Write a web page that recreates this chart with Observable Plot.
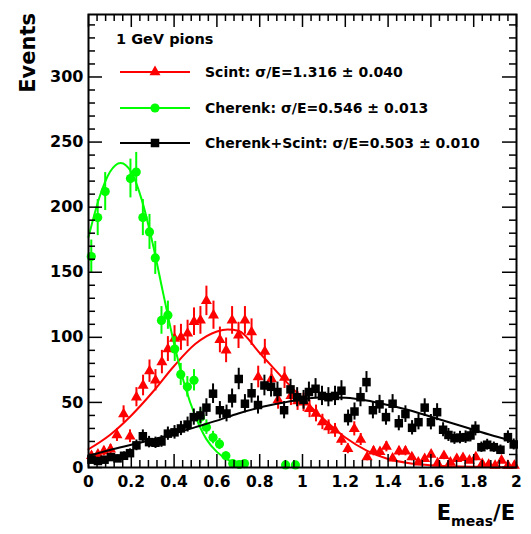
<!DOCTYPE html>
<html>
<head>
<meta charset="utf-8">
<script src="https://cdn.jsdelivr.net/npm/d3@7"></script>
<script src="https://cdn.jsdelivr.net/npm/@observablehq/plot@0.6"></script>
<style>
  body { margin: 0; background: #fff; }
  #chart svg { display: block; }
</style>
</head>
<body>
<div id="chart"></div>
<script>
// Energy response of the dual-readout calorimeter to 1 GeV pions.

// Scintillation signal histogram (bin centre, events)
const scintX = [0.014, 0.044, 0.072, 0.103, 0.133, 0.164, 0.194, 0.224, 0.255, 0.285, 0.313, 0.343, 0.371, 0.402, 0.432, 0.463, 0.493, 0.523, 0.551, 0.584, 0.614, 0.643, 0.671, 0.701, 0.731, 0.762, 0.793, 0.824, 0.855, 0.886, 0.916, 0.946, 0.977, 1.005, 1.033, 1.063, 1.093, 1.122, 1.152, 1.182, 1.212, 1.242, 1.272, 1.302, 1.332, 1.362, 1.392, 1.421, 1.451, 1.481, 1.511, 1.541, 1.571, 1.601, 1.631, 1.661, 1.691, 1.721, 1.750, 1.780, 1.810, 1.840, 1.870, 1.900, 1.930, 1.960, 1.990];
const scintY = [9, 10, 12.5, 14, 25, 41, 24, 54, 63, 74, 67, 81, 91, 99, 100, 103, 112, 113, 128, 117, 98, 90, 113, 101.5, 113, 104, 69.5, 89, 68, 52, 69, 55, 51, 50, 45, 41.5, 35, 31, 28.5, 21.5, 14.4, 29.7, 21.5, 8, 12.5, 12, 16, 7, 12.5, 12.5, 8, 4, 6.7, 10, 3.3, 9, 4, 6.7, 7.4, 5.4, 8, 2.8, 2.3, 1.5, 5.4, 1.5, 1.5];

// Cherenkov signal histogram
const cherX = [0.013, 0.043, 0.078, 0.196, 0.223, 0.254, 0.285, 0.312, 0.341, 0.371, 0.403, 0.431, 0.462, 0.493, 0.523, 0.551, 0.582, 0.612, 0.642, 0.674, 0.704, 0.729, 0.921, 0.967];
const cherY = [162, 192, 212, 222, 227, 192, 181, 161, 113, 117, 91, 71.5, 62, 67, 38.7, 31, 23, 18, 9, 3, 2.3, 3, 2, 2];

// Combined Cherenkov + scintillation histogram
const sumX = [0.014, 0.044, 0.075, 0.105, 0.136, 0.166, 0.194, 0.224, 0.254, 0.283, 0.313, 0.341, 0.371, 0.402, 0.432, 0.463, 0.492, 0.523, 0.551, 0.582, 0.614, 0.645, 0.671, 0.702, 0.731, 0.762, 0.792, 0.822, 0.853, 0.883, 0.914, 0.944, 0.975, 1.005, 1.030, 1.061, 1.091, 1.121, 1.152, 1.182, 1.213, 1.243, 1.271, 1.299, 1.329, 1.360, 1.390, 1.421, 1.450, 1.481, 1.512, 1.542, 1.571, 1.600, 1.629, 1.657, 1.682, 1.710, 1.736, 1.762, 1.785, 1.808, 1.836, 1.863, 1.894, 1.925, 1.960, 1.987];
const sumY = [6, 5, 6, 8, 7, 9, 11, 17, 24, 19.5, 19, 20, 26, 27, 30, 33, 38.7, 40, 46, 56.7, 44, 41.5, 53, 68, 49, 57, 48, 63, 62, 58, 44, 60, 54, 52, 58, 60.5, 55, 54, 55, 59, 38, 43, 54, 65.6, 44, 48.5, 38.7, 49, 34, 41, 30.5, 34.8, 46, 34.8, 42.5, 29, 25, 22.5, 23, 23.3, 24.6, 29.7, 15.6, 17.5, 15.6, 13.6, 23.3, 17.7];

// Fitted curves, sampled along E_meas/E
const scintFitX = [0, 0.1, 0.2, 0.3, 0.4, 0.5, 0.6, 0.65, 0.7, 0.8, 0.9, 1.0, 1.1, 1.2, 1.3, 1.4, 1.5, 1.6, 1.7, 1.8, 1.9, 2.0];
const scintFitY = [14, 25, 40, 58, 78, 95, 104.5, 106, 105, 88, 70, 53, 37, 23, 13, 6.5, 3.3, 1.8, 0.9, 0.5, 0.3, 0.2];
const cherFitX = [0, 0.05, 0.1, 0.15, 0.2, 0.25, 0.3, 0.35, 0.4, 0.45, 0.5, 0.55, 0.6, 0.65, 0.7];
const cherFitY = [177, 207, 227, 234, 227, 205, 172, 133, 95, 63, 39, 22, 12, 6, 2.7];
const sumFitX = [0, 0.1, 0.2, 0.3, 0.4, 0.5, 0.6, 0.7, 0.8, 0.9, 1.0, 1.1, 1.2, 1.3, 1.4, 1.5, 1.6, 1.7, 1.8, 1.9, 2.0];
const sumFitY = [9, 13.5, 17.5, 21.5, 26, 31, 36, 41.5, 46, 49.5, 52.5, 54, 53.5, 51.5, 48, 44, 39, 34, 29, 24, 19.5];

// Axis ticks
const xTicks = [0, 0.2, 0.4, 0.6, 0.8, 1, 1.2, 1.4, 1.6, 1.8, 2];
const xMinor = d3.range(0, 51).map(i => i * 0.04).filter(v => Math.abs(v / 0.2 - Math.round(v / 0.2)) > 1e-6);
const yTicks = [0, 50, 100, 150, 200, 250, 300];
const yMinor = d3.range(0, 35).map(i => i * 10).filter(v => v % 50 !== 0);

// Legend entries
const legendTitle = "1 GeV pions";
const legendLabels = ["Scint: σ/E=1.316 ± 0.040", "Cherenk: σ/E=0.546 ± 0.013", "Cherenk+Scint: σ/E=0.503 ± 0.010"];

const W = 531, H = 534;
const M = {left: 88, right: 15, top: 14, bottom: 67};
const innerW = W - M.left - M.right;
const innerH = H - M.top - M.bottom;
const FONT = "DejaVu Sans, Liberation Sans, Arial, sans-serif";

const RED = "#ff0000", GREEN = "#00ff00", BLACK = "#000000";
const series = [
  {X: scintX, Y: scintY, fx: scintFitX, fy: scintFitY, color: RED, symbol: "triangle", r: 4.1},
  {X: cherX, Y: cherY, fx: cherFitX, fy: cherFitY, color: GREEN, symbol: "circle", r: 4.6},
  {X: sumX, Y: sumY, fx: sumFitX, fy: sumFitY, color: BLACK, symbol: "square", r: 4.8}
];

const dataMarks = series.flatMap(s => {
  const idx = d3.range(s.X.length);
  const fidx = d3.range(s.fx.length);
  return [
    Plot.ruleX(idx, {x: i => s.X[i], y1: i => Math.max(0, s.Y[i] - Math.sqrt(s.Y[i])), y2: i => s.Y[i] + Math.sqrt(s.Y[i]), stroke: s.color, strokeWidth: 2}),
    Plot.dot(idx, {x: i => s.X[i], y: i => s.Y[i], symbol: () => s.symbol, r: s.r, fill: s.color, stroke: "none"}),
    Plot.line(fidx, {x: i => s.fx[i], y: i => s.fy[i], stroke: s.color, strokeWidth: 2, curve: "monotone-x"})
  ];
});

const plot = Plot.plot({
  width: W,
  height: H,
  marginLeft: M.left,
  marginRight: M.right,
  marginTop: M.top,
  marginBottom: M.bottom,
  x: {domain: [0, 2]},
  y: {domain: [0, 348]},
  symbol: {type: "identity"},
  style: {fontFamily: FONT, fontWeight: "bold", fontSize: "15.5px", background: "white", color: "black"},
  marks: [
    ...dataMarks,
    // inward ticks on all four sides
    Plot.tickY(yTicks, {y: d => d, insetRight: innerW - 14, stroke: "black", strokeWidth: 1.5}),
    Plot.tickY(yMinor, {y: d => d, insetRight: innerW - 7, stroke: "black", strokeWidth: 1.5}),
    Plot.tickY(yTicks, {y: d => d, insetLeft: innerW - 14, stroke: "black", strokeWidth: 1.5}),
    Plot.tickY(yMinor, {y: d => d, insetLeft: innerW - 7, stroke: "black", strokeWidth: 1.5}),
    Plot.tickX(xTicks, {x: d => d, insetTop: innerH - 13, stroke: "black", strokeWidth: 1.5}),
    Plot.tickX(xMinor, {x: d => d, insetTop: innerH - 7, stroke: "black", strokeWidth: 1.5}),
    Plot.tickX(xTicks, {x: d => d, insetBottom: innerH - 13, stroke: "black", strokeWidth: 1.5}),
    Plot.tickX(xMinor, {x: d => d, insetBottom: innerH - 7, stroke: "black", strokeWidth: 1.5}),
    Plot.axisY(yTicks, {tickSize: 0, tickPadding: 5, label: null, fontSize: 16}),
    Plot.axisX(xTicks, {tickSize: 0, tickPadding: 8, label: null, fontSize: 15.5, tickFormat: d3.format("~g")}),
    Plot.frame({stroke: "black", strokeWidth: 2})
  ]
});

const svg = d3.select(plot);

// y-axis title
svg.append("text")
  .attr("transform", "translate(35,13) rotate(-90)")
  .attr("text-anchor", "end")
  .attr("font-family", FONT)
  .attr("font-weight", "bold")
  .attr("font-size", 21)
  .attr("fill", "black")
  .text("Events");

// x-axis title: E_meas/E
const xt = svg.append("text")
  .attr("x", 515).attr("y", 520)
  .attr("text-anchor", "end")
  .attr("font-family", FONT)
  .attr("font-weight", "bold")
  .attr("font-size", 21)
  .attr("fill", "black");
xt.append("tspan").text("E");
xt.append("tspan").attr("font-size", 14).attr("dy", 6).text("meas");
xt.append("tspan").attr("dy", -6).text("/E");

// legend
const lg = svg.append("g")
  .attr("font-family", FONT)
  .attr("font-weight", "bold")
  .attr("text-anchor", "start")
  .attr("fill", "black");
lg.append("text").attr("x", 116).attr("y", 44).attr("text-anchor", "start").attr("font-size", 14.5).text(legendTitle);
const rowY = [72, 108, 143];
series.forEach((s, k) => {
  const y = rowY[k];
  lg.append("line").attr("x1", 120).attr("x2", 190).attr("y1", y).attr("y2", y)
    .attr("stroke", s.color).attr("stroke-width", 2);
  const sym = {triangle: d3.symbolTriangle, circle: d3.symbolCircle, square: d3.symbolSquare}[s.symbol];
  lg.append("path").attr("transform", `translate(155,${y})`)
    .attr("d", d3.symbol(sym, Math.PI * s.r * s.r)())
    .attr("fill", s.color);
  lg.append("text").attr("x", 205).attr("y", y + 5).attr("text-anchor", "start").attr("font-size", 14).text(legendLabels[k]);
});

document.getElementById("chart").appendChild(plot);
</script>
</body>
</html>
